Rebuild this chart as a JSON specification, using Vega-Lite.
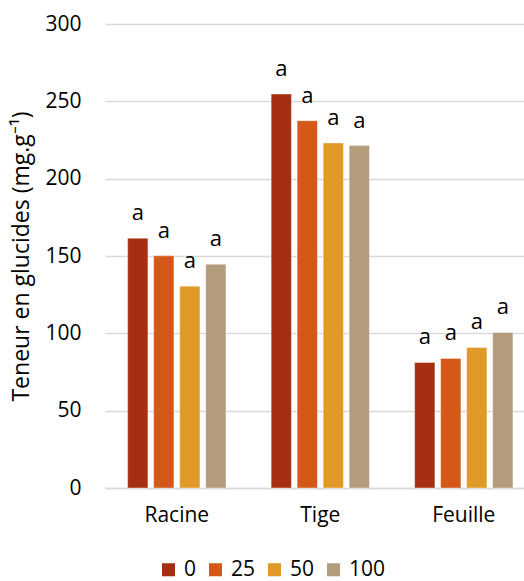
{
  "$schema": "https://vega.github.io/schema/vega-lite/v6.json",
  "autosize": "none",
  "width": 419,
  "height": 464,
  "padding": {"left": 105, "top": 24, "right": 0, "bottom": 93},
  "background": "white",
  "config": {
    "view": {"stroke": null},
    "font": "Open Sans",
    "axis": {"labelFont": "Open Sans", "titleFont": "Open Sans", "labelColor": "#000", "titleColor": "#000"}
  },
  "data": {
    "values": [
      {"organe": "Racine", "dose": "0", "valeur": 161.5, "lettre": "a"},
      {"organe": "Racine", "dose": "25", "valeur": 150.1, "lettre": "a"},
      {"organe": "Racine", "dose": "50", "valeur": 130.5, "lettre": "a"},
      {"organe": "Racine", "dose": "100", "valeur": 144.7, "lettre": "a"},
      {"organe": "Tige", "dose": "0", "valeur": 254.7, "lettre": "a"},
      {"organe": "Tige", "dose": "25", "valeur": 237.5, "lettre": "a"},
      {"organe": "Tige", "dose": "50", "valeur": 223.1, "lettre": "a"},
      {"organe": "Tige", "dose": "100", "valeur": 221.4, "lettre": "a"},
      {"organe": "Feuille", "dose": "0", "valeur": 81.2, "lettre": "a"},
      {"organe": "Feuille", "dose": "25", "valeur": 83.8, "lettre": "a"},
      {"organe": "Feuille", "dose": "50", "valeur": 90.9, "lettre": "a"},
      {"organe": "Feuille", "dose": "100", "valeur": 100.6, "lettre": "a"}
    ]
  },
  "encoding": {
    "x": {
      "field": "organe", "type": "nominal", "sort": ["Racine", "Tige", "Feuille"],
      "scale": {"paddingInner": 0.275, "paddingOuter": 0.0975, "align": 0.707},
      "axis": {"title": null, "labelAngle": 0, "labelFontSize": 21, "labelPadding": 16, "ticks": false, "domainColor": "#D9D9D9", "domainWidth": 1.5, "grid": false}
    },
    "xOffset": {
      "field": "dose", "type": "nominal", "sort": ["0", "25", "50", "100"],
      "scale": {"paddingInner": 0.22, "paddingOuter": 0.11}
    },
    "y": {
      "field": "valeur", "type": "quantitative",
      "scale": {"domain": [0, 300], "nice": false},
      "axis": {"title": "Teneur en glucides (mg.g⁻¹)", "titleFontSize": 23, "titleFontWeight": "normal", "titlePadding": 11, "values": [0, 50, 100, 150, 200, 250, 300], "labelFontSize": 21, "labelPadding": 24, "ticks": false, "domain": false, "gridColor": "#D9D9D9", "gridWidth": 1.5}
    }
  },
  "layer": [
    {
      "mark": {"type": "bar", "stroke": "#ffffff", "strokeOpacity": 0.5, "strokeWidth": 0.8},
      "encoding": {
        "color": {
          "field": "dose", "type": "nominal", "sort": ["0", "25", "50", "100"],
          "scale": {"domain": ["0", "25", "50", "100"], "range": ["#A52F10", "#D55818", "#E19A27", "#B39C7C"]},
          "legend": {"title": null, "orient": "none", "direction": "horizontal", "legendX": 53, "legendY": 535, "symbolType": "square", "symbolSize": 170, "symbolStrokeWidth": 0, "labelFontSize": 21, "labelFont": "Open Sans", "labelColor": "#000", "columnPadding": 8, "labelOffset": 5}
        }
      }
    },
    {
      "mark": {"type": "text", "baseline": "alphabetic", "dy": -18, "fontSize": 22, "font": "Open Sans", "color": "#000"},
      "encoding": {"text": {"field": "lettre"}}
    }
  ]
}
